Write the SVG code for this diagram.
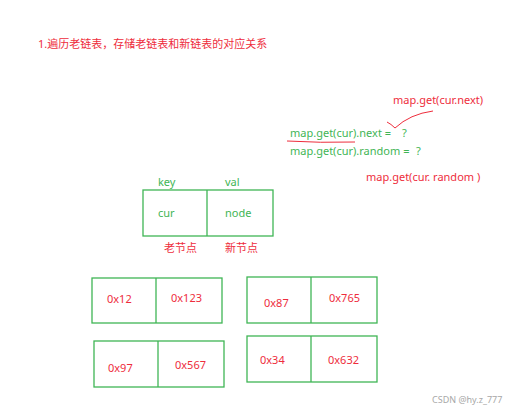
<svg xmlns="http://www.w3.org/2000/svg" width="511" height="411" viewBox="0 0 511 411">
<style>
text{font-family:"Noto Sans","Noto Sans CJK SC",sans-serif;font-size:11px}
.r{fill:#ee2d3c}
.g{fill:#3fb555}
.box{fill:none;stroke:#3fb555;stroke-width:1.3}
.wm{fill:#a8a8a8;font-size:9px}
</style>
<rect width="511" height="411" fill="#fff"/>
<text class="r" x="38" y="48">1.遍历老链表，存储老链表和新链表的对应关系</text>
<g id="annotations">
<text class="r" x="393" y="104">map.get(cur.next)</text>
<path d="M387,122 Q391,124 395,128 Q410,114 433,111" fill="none" stroke="#ee2d3c" stroke-width="1"/>
<text class="g" x="290" y="137">map.get(cur).next =</text>
<text class="g" x="402" y="137">?</text>
<path d="M287,141 Q320,143 355,142" fill="none" stroke="#ee2d3c" stroke-width="1"/>
<text class="g" x="290" y="155">map.get(cur).random =</text>
<text class="g" x="416" y="155">?</text>
<text class="r" x="366" y="181">map.get(cur.  random )</text>
</g>
<g id="map-entry">
<text class="g" x="158" y="186">key</text>
<text class="g" x="225" y="186">val</text>
<rect class="box" x="143" y="190" width="130" height="46"/>
<line class="box" x1="207" y1="190" x2="207" y2="236"/>
<text class="g" x="158" y="217">cur</text>
<text class="g" x="225" y="217">node</text>
<text class="r" x="164" y="252">老节点</text>
<text class="r" x="225" y="252">新节点</text>
</g>
<g id="pair1">
<rect class="box" x="92" y="278" width="130" height="45"/>
<line class="box" x1="156" y1="278" x2="156" y2="323"/>
<text class="r" x="107" y="303">0x12</text>
<text class="r" x="171" y="302">0x123</text>
</g>
<g id="pair2">
<rect class="box" x="247" y="277" width="130" height="46"/>
<line class="box" x1="311" y1="277" x2="311" y2="323"/>
<text class="r" x="264" y="307">0x87</text>
<text class="r" x="329" y="302">0x765</text>
</g>
<g id="pair3">
<rect class="box" x="94" y="341" width="130" height="46"/>
<line class="box" x1="158" y1="341" x2="158" y2="387"/>
<text class="r" x="108" y="372">0x97</text>
<text class="r" x="175" y="369">0x567</text>
</g>
<g id="pair4">
<rect class="box" x="247" y="336" width="130" height="46"/>
<line class="box" x1="311" y1="336" x2="311" y2="382"/>
<text class="r" x="260" y="364">0x34</text>
<text class="r" x="328" y="364">0x632</text>
</g>
<g id="connectors"/>
<text class="wm" x="432" y="403">CSDN @hy.z_777</text>
</svg>
